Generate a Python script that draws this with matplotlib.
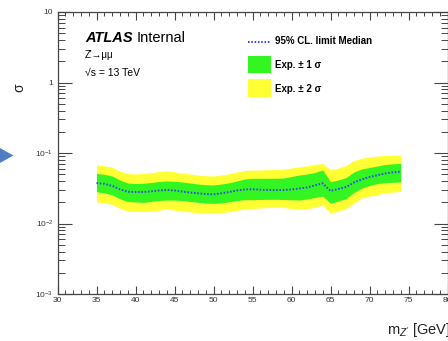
import matplotlib
matplotlib.use("Agg")
import matplotlib.pyplot as plt
from matplotlib.patches import Rectangle, Polygon
from matplotlib.lines import Line2D
from matplotlib.ticker import FixedLocator, NullFormatter

plt.rcParams["font.family"] = ["Liberation Sans", "DejaVu Sans"]
plt.rcParams["mathtext.fontset"] = "custom"
plt.rcParams["mathtext.rm"] = "Liberation Sans"
plt.rcParams["mathtext.it"] = "Liberation Sans:italic"
plt.rcParams["mathtext.bf"] = "Liberation Sans:bold"

# Z' mass points [GeV]
mass = [35, 36, 37, 38, 39, 40, 41, 42, 43, 44, 45, 46, 47, 48, 49,
        50, 51, 52, 53, 54, 55, 56, 57, 58, 59, 60, 61, 62, 63, 64,
        65, 66, 67, 68, 69, 70, 71, 72, 73, 74]

# expected 95% CL limit (median) and the +-1 / +-2 sigma bands
median = [0.0375, 0.0366, 0.0342, 0.0306, 0.0282, 0.0280, 0.0280, 0.0286, 0.0294, 0.0299,
          0.0294, 0.0284, 0.0275, 0.0268, 0.0262, 0.0259, 0.0268, 0.0280, 0.0294, 0.0304,
          0.0306, 0.0302, 0.0299, 0.0299, 0.0299, 0.0304, 0.0314, 0.0324, 0.0348, 0.0372,
          0.0289, 0.0309, 0.0329, 0.0382, 0.0421, 0.0457, 0.0484, 0.0512, 0.0532, 0.0543]
one_sigma_hi = [0.0512, 0.0499, 0.0472, 0.0414, 0.0375, 0.0369, 0.0372, 0.0382, 0.0394, 0.0401,
                0.0397, 0.0388, 0.0375, 0.0363, 0.0355, 0.0352, 0.0363, 0.0378, 0.0401, 0.0428,
                0.0438, 0.0438, 0.0438, 0.0438, 0.0442, 0.0464, 0.0487, 0.0504, 0.0529, 0.0574,
                0.0392, 0.0414, 0.0449, 0.0538, 0.0593, 0.0623, 0.0654, 0.0687, 0.0703, 0.0714]
one_sigma_lo = [0.0282, 0.0272, 0.0255, 0.0224, 0.0205, 0.0202, 0.0200, 0.0205, 0.0212, 0.0215,
                0.0215, 0.0212, 0.0205, 0.0200, 0.0195, 0.0193, 0.0197, 0.0203, 0.0211, 0.0218,
                0.0218, 0.0219, 0.0220, 0.0220, 0.0219, 0.0217, 0.0215, 0.0223, 0.0234, 0.0245,
                0.0193, 0.0209, 0.0226, 0.0275, 0.0316, 0.0346, 0.0369, 0.0378, 0.0384, 0.0388]
two_sigma_hi = [0.0676, 0.0658, 0.0627, 0.0555, 0.0512, 0.0504, 0.0512, 0.0524, 0.0547, 0.0555,
                0.0541, 0.0520, 0.0504, 0.0487, 0.0476, 0.0472, 0.0487, 0.0507, 0.0538, 0.0565,
                0.0574, 0.0574, 0.0580, 0.0583, 0.0587, 0.0613, 0.0639, 0.0658, 0.0687, 0.0714,
                0.0574, 0.0613, 0.0665, 0.0783, 0.0841, 0.0878, 0.0907, 0.0922, 0.0931, 0.0937]
two_sigma_lo = [0.0202, 0.0197, 0.0187, 0.0164, 0.0151, 0.0149, 0.0147, 0.0150, 0.0155, 0.0159,
                0.0155, 0.0149, 0.0146, 0.0142, 0.0140, 0.0140, 0.0142, 0.0147, 0.0153, 0.0161,
                0.0163, 0.0166, 0.0169, 0.0170, 0.0169, 0.0163, 0.0159, 0.0163, 0.0170, 0.0183,
                0.0140, 0.0150, 0.0163, 0.0195, 0.0230, 0.0245, 0.0258, 0.0271, 0.0280, 0.0284]

x_major = [30, 35, 40, 45, 50, 55, 60, 65, 70, 75, 80]
x_labels = ["30", "35", "40", "45", "50", "55", "60", "65", "70", "75", "80"]
y_major = [1e-3, 1e-2, 1e-1, 1, 10]
y_labels = ["$10^{-3}$", "$10^{-2}$", "$10^{-1}$", "1", "10"]

W, H = 448, 341
fig = plt.figure(figsize=(W / 100, H / 100), dpi=100)


def fx(x):
    return x / W


def fy(y):
    return 1 - y / H


ax = fig.add_axes([fx(57.5), fy(294), fx(447.5) - fx(57.5), fy(12) - fy(294)])
ax.set_xlim(30, 80)
ax.set_yscale("log")
ax.set_ylim(1e-3, 10)

YELLOW = "#ffff33"
GREEN = "#33f522"
BLUE = "#3344ee"

ax.fill_between(mass, two_sigma_lo, two_sigma_hi, color=YELLOW, lw=0)
ax.fill_between(mass, one_sigma_lo, one_sigma_hi, color=GREEN, lw=0)
ax.plot(mass, median, color=BLUE, lw=1.4, linestyle=(0, (0.8, 0.9)))

# ROOT-like frame and ticks
frame_col = "#444444"
for s in ax.spines.values():
    s.set_color(frame_col)
    s.set_linewidth(0.9)

ax.xaxis.set_major_locator(FixedLocator(x_major))
ax.set_xticklabels(x_labels)
ax.xaxis.set_minor_locator(FixedLocator(list(range(30, 81))))
ax.yaxis.set_major_locator(FixedLocator(y_major))
ax.set_yticklabels(y_labels)
minor_y = [m * 10.0 ** e for e in range(-3, 1) for m in range(2, 10)]
ax.yaxis.set_minor_locator(FixedLocator(minor_y))
ax.yaxis.set_minor_formatter(NullFormatter())

ax.tick_params(axis="x", which="major", direction="in", length=6, width=0.8,
               top=True, color=frame_col, labelsize=6, labelcolor="#333333", pad=2)
ax.tick_params(axis="x", which="minor", direction="in", length=3, width=0.7,
               top=True, color=frame_col)
ax.tick_params(axis="y", which="major", direction="in", length=10, width=0.8,
               right=True, color=frame_col, labelsize=6, labelcolor="#333333", pad=3)
ax.tick_params(axis="y", which="minor", direction="in", length=5, width=0.7,
               right=True, color=frame_col)

# axis titles
fig.text(fx(19), fy(88), "σ", rotation=90, ha="center", va="center",
         fontsize=10, color="#222222")
fig.text(fx(451), fy(330), "m$_{Z'}$ [GeV]", ha="right", va="center",
         fontsize=10.5, color="#222222")

# labels in the upper left
fig.text(fx(85), fy(38), "ATLAS", fontsize=10.5, fontweight="bold",
         fontstyle="italic", va="center", ha="left")
fig.text(fx(137), fy(38), "Internal", fontsize=10.5, va="center", ha="left")
fig.text(fx(85), fy(55), "Z'→μμ", fontsize=7, va="center", ha="left")
fig.text(fx(85), fy(73), "√s = 13 TeV", fontsize=7.5, va="center", ha="left")

# legend
fig.add_artist(Line2D([fx(248), fx(270)], [fy(41.5), fy(41.5)], color=BLUE,
                      lw=1.4, linestyle=(0, (0.8, 0.9))))
fig.text(fx(275), fy(41.5), "95% CL. limit Median", fontsize=7,
         fontweight="bold", va="center", ha="left")
fig.add_artist(Rectangle((fx(248), fy(73.3)), fx(22.7), fy(56) - fy(73.3),
                         color=GREEN, lw=0))
fig.text(fx(275), fy(64.5), "Exp. ± 1 σ", fontsize=7, fontweight="bold",
         va="center", ha="left")
fig.add_artist(Rectangle((fx(248), fy(96.7)), fx(22.7), fy(79.3) - fy(96.7),
                         color=YELLOW, lw=0))
fig.text(fx(275), fy(88.5), "Exp. ± 2 σ", fontsize=7, fontweight="bold",
         va="center", ha="left")

# slide arrow at the left border
fig.add_artist(Polygon([(fx(-2), fy(147)), (fx(13.5), fy(155.5)), (fx(-2), fy(164))],
                       closed=True, color="#4f7fc2", lw=0))

fig.savefig("out.png", dpi=100)
